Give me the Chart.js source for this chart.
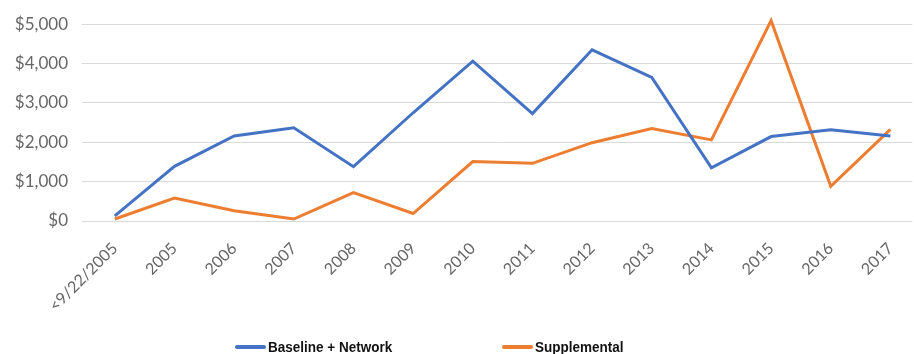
<!DOCTYPE html>
<html>
<head>
<meta charset="utf-8">
<script src="https://cdn.jsdelivr.net/npm/chart.js@4"></script>
<style>
  html, body { margin: 0; padding: 0; background: #fff; }
  .wrap { position: relative; width: 914px; height: 354px; }
  .legend { position: absolute; left: 0; top: 338px; width: 914px; height: 16px;
    font: bold 15px "Liberation Sans", Arial, sans-serif; color: #111; }
  .legend span { position: absolute; top: 0; line-height: 16px; white-space: nowrap; }
  .legend i { display: inline-block; width: 31px; height: 4px; border-radius: 2px; vertical-align: middle; margin-right: 2px; }
  .legend b { display: inline-block; transform: scaleX(0.9); transform-origin: left center; vertical-align: middle; }
</style>
</head>
<body>
<div class="wrap">
  <canvas id="c" width="914" height="354"></canvas>
  <div class="legend">
    <span style="left:235px"><i style="background:#4472c4"></i><b>Baseline + Network</b></span>
    <span style="left:502px"><i style="background:#ed7d31"></i><b>Supplemental</b></span>
  </div>
</div>
<script>
  // values
  var categories = ["<9/22/2005", "2005", "2006", "2007", "2008", "2009", "2010",
                    "2011", "2012", "2013", "2014", "2015", "2016", "2017"];
  var baselineNetwork = [130, 1390, 2160, 2370, 1380, 2750, 4060, 2730, 4350, 3650, 1350, 2145, 2320, 2160];
  var supplemental = [50, 585, 260, 50, 720, 190, 1510, 1465, 1990, 2350, 2060, 5090, 880, 2330];
  var yTicks = [0, 1000, 2000, 3000, 4000, 5000];

  function pts(arr) { return arr.map(function (v, i) { return { x: i, y: v }; }); }
  function money(v) { return "$" + Number(v).toLocaleString("en-US"); }

  Chart.defaults.font.family = "Lato, 'Open Sans', sans-serif";
  Chart.defaults.color = "#666666";

  new Chart(document.getElementById("c"), {
    type: "line",
    data: {
      datasets: [
        { label: "Baseline + Network", data: pts(baselineNetwork), borderColor: "#4472c4", borderWidth: 3, pointRadius: 0, tension: 0, clip: false },
        { label: "Supplemental", data: pts(supplemental), borderColor: "#ed7d31", borderWidth: 3, pointRadius: 0, tension: 0, clip: false }
      ]
    },
    options: {
      responsive: false,
      animation: false,
      layout: { padding: { top: 21, right: 0, bottom: 0, left: 0 } },
      plugins: { legend: { display: false }, tooltip: { enabled: false } },
      scales: {
        x: {
          type: "linear", min: -0.55, max: 13.37,
          afterBuildTicks: function (s) { s.ticks = categories.map(function (c, i) { return { value: i }; }); },
          afterFit: function (s) { s.height = 133; },
          grid: { display: false }, border: { display: false },
          ticks: { autoSkip: false, minRotation: 45, maxRotation: 45, padding: 10, font: { size: 16 },
                   callback: function (v) { return categories[v]; } }
        },
        y: {
          min: yTicks[0], max: yTicks[yTicks.length - 1],
          afterBuildTicks: function (s) { s.ticks = yTicks.map(function (v) { return { value: v }; }); },
          afterFit: function (s) { s.width = 82; },
          grid: { color: "#d9d9d9", drawTicks: false }, border: { display: false },
          ticks: { padding: 14, font: { size: 17 }, callback: money }
        }
      }
    }
  });
</script>
</body>
</html>
